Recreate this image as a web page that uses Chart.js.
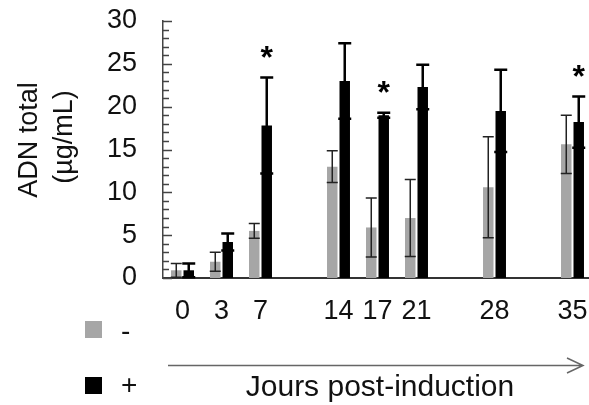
<!DOCTYPE html>
<html>
<head>
<meta charset="utf-8">
<script src="https://cdn.jsdelivr.net/npm/chart.js@4"></script>
<style>
  html, body { margin: 0; padding: 0; background: #fff; overflow: hidden; }
  canvas { display: block; }
</style>
</head>
<body>
<canvas id="chart" width="595" height="405"></canvas>
<script>
// Data (days post-induction, empty slots keep the spacing)
const days = ['0', '3', '7', '', '14', '17', '21', '', '28', '', '35'];
const meanMinus = [0.9, 1.9, 5.5, null, 13.0, 5.9, 7.0, null, 10.6, null, 15.6];
const errMinus = [0.8, 1.1, 0.85, null, 1.85, 3.45, 4.5, null, 5.9, null, 3.4];
const meanPlus = [0.9, 4.2, 17.8, null, 23.0, 19.0, 22.3, null, 19.5, null, 18.2];
const errPlus = [0.8, 1.0, 5.6, null, 4.4, 0.3, 2.6, null, 4.8, null, 3.0];
const significant = [false, false, true, false, false, true, false, false, false, false, true];
const yMin = 0;
const yMax = 30;
const yStep = 5;

const FONT = '"Liberation Sans", Arial, sans-serif';
const GRAY = '#a6a6a6';

// Error bars, stars, minor ticks, legend, arrow and titles
const extras = {
    id: 'extras',
    afterDatasetsDraw(chart) {
        const ctx = chart.ctx;
        const y = chart.scales.y;
        const area = chart.chartArea;
        const errs = [errMinus, errPlus];
        const means = [meanMinus, meanPlus];

        ctx.save();
        // error bars
        [0, 1].forEach(d => {
            const meta = chart.getDatasetMeta(d);
            ctx.strokeStyle = d === 0 ? '#222' : '#000';
            ctx.lineWidth = d === 0 ? 1.5 : 2.5;
            meta.data.forEach((bar, i) => {
                if (means[d][i] == null) return;
                const top = y.getPixelForValue(means[d][i] + errs[d][i]);
                const bot = y.getPixelForValue(Math.max(0, means[d][i] - errs[d][i]));
                const half = d === 0 ? 5.5 : 6.5;
                ctx.beginPath();
                ctx.moveTo(bar.x, top); ctx.lineTo(bar.x, bot);
                ctx.moveTo(bar.x - half, top); ctx.lineTo(bar.x + half, top);
                ctx.moveTo(bar.x - half, bot); ctx.lineTo(bar.x + half, bot);
                ctx.stroke();
            });
        });

        // significance stars above the + bars
        const metaPlus = chart.getDatasetMeta(1);
        ctx.fillStyle = '#000';
        ctx.font = 'bold 32px ' + FONT;
        ctx.textAlign = 'center';
        ctx.textBaseline = 'middle';
        significant.forEach((s, i) => {
            if (!s) return;
            const top = y.getPixelForValue(meanPlus[i] + errPlus[i]);
            ctx.fillText('*', metaPlus.data[i].x, top - 18);
        });

        // ticks inside the y axis
        ctx.strokeStyle = '#444';
        ctx.lineWidth = 1.5;
        ctx.beginPath();
        for (let v = yMin; v <= yMax; v++) {
            const py = Math.round(y.getPixelForValue(v)) + 0.5;
            const len = v % yStep === 0 ? 9 : 6;
            ctx.moveTo(area.left, py);
            ctx.lineTo(area.left + len, py);
        }
        ctx.stroke();

        // y axis title
        ctx.fillStyle = '#111';
        ctx.font = '27px ' + FONT;
        ctx.textAlign = 'center';
        ctx.textBaseline = 'alphabetic';
        ctx.save();
        ctx.translate(37, 140);
        ctx.rotate(-Math.PI / 2);
        ctx.fillText('ADN total', 0, 0);
        ctx.restore();
        ctx.save();
        ctx.translate(72, 137);
        ctx.rotate(-Math.PI / 2);
        ctx.fillText('(\u00b5g/mL)', 0, 0);
        ctx.restore();

        // arrow under the x axis
        ctx.strokeStyle = '#666';
        ctx.lineWidth = 1.5;
        ctx.beginPath();
        ctx.moveTo(168, 365.5); ctx.lineTo(583, 365.5);
        ctx.moveTo(567, 358); ctx.lineTo(583, 365.5); ctx.lineTo(567, 373);
        ctx.stroke();

        ctx.fillStyle = '#111';
        ctx.font = '30px ' + FONT;
        ctx.textAlign = 'center';
        ctx.fillText('Jours post-induction', 380, 396);

        // legend
        ctx.fillStyle = GRAY;
        ctx.fillRect(85, 321, 17, 17);
        ctx.fillStyle = '#000';
        ctx.fillRect(85, 377, 17, 17);
        ctx.fillStyle = '#111';
        ctx.font = '28px ' + FONT;
        ctx.textAlign = 'left';
        ctx.textBaseline = 'middle';
        ctx.fillText('-', 121, 332);
        ctx.fillText('+', 121, 386);
        ctx.restore();
    }
};

const chart = new Chart(document.getElementById('chart').getContext('2d'), {
    type: 'bar',
    data: {
        labels: days,
        datasets: [
            { label: '-', data: meanMinus, backgroundColor: GRAY, categoryPercentage: 0.64, barPercentage: 0.84 },
            { label: '+', data: meanPlus, backgroundColor: '#000', categoryPercentage: 0.64, barPercentage: 0.84 }
        ]
    },
    options: {
        responsive: false,
        animation: false,
        layout: { padding: { left: 0, right: 3, top: 21, bottom: 0 } },
        plugins: {
            legend: { display: false },
            tooltip: { enabled: false }
        },
        scales: {
            x: {
                grid: { display: false, drawTicks: false },
                border: { display: true, color: '#333', width: 2 },
                ticks: {
                    color: '#111',
                    font: { family: FONT, size: 27 },
                    padding: 17,
                    maxRotation: 0,
                    autoSkip: false
                },
                afterFit(scale) {
                    scale.height = 127;
                    scale.paddingLeft = 0;
                    scale.paddingRight = 0;
                }
            },
            y: {
                min: yMin,
                max: yMax,
                grid: { display: false, drawTicks: false },
                border: { display: true, color: '#444', width: 1.5 },
                ticks: {
                    stepSize: yStep,
                    color: '#111',
                    font: { family: FONT, size: 27 },
                    padding: 26
                },
                afterFit(scale) {
                    scale.width = 163;
                    scale.paddingTop = 0;
                    scale.paddingBottom = 0;
                }
            }
        }
    },
    plugins: [extras]
});
</script>
</body>
</html>
